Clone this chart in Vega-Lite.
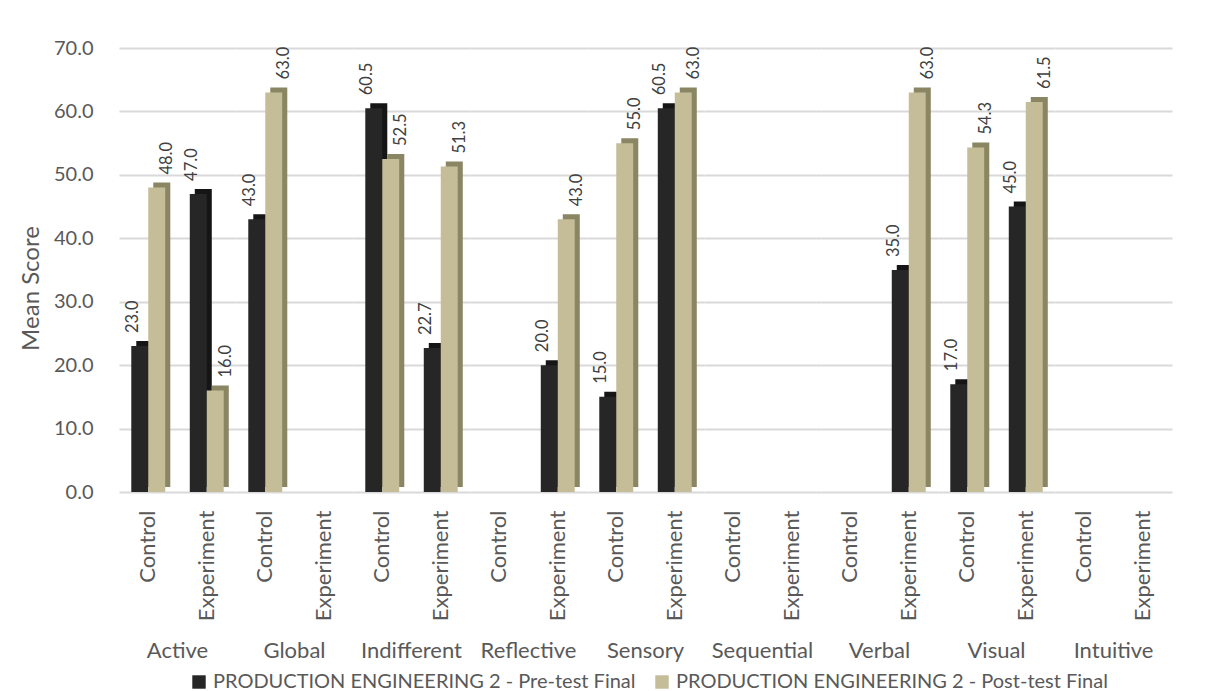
{
  "$schema": "https://vega.github.io/schema/vega-lite/v6.json",
  "padding": {"left": 19, "top": 38, "right": 10, "bottom": 0},
  "background": "white",
  "data": {"values": [
    {"category": "Active", "group": "Control", "series": "PRODUCTION ENGINEERING 2 - Pre-test Final", "value": 23.0},
    {"category": "Active", "group": "Control", "series": "PRODUCTION ENGINEERING 2 - Post-test Final", "value": 48.0},
    {"category": "Active", "group": "Experiment", "series": "PRODUCTION ENGINEERING 2 - Pre-test Final", "value": 47.0},
    {"category": "Active", "group": "Experiment", "series": "PRODUCTION ENGINEERING 2 - Post-test Final", "value": 16.0},
    {"category": "Global", "group": "Control", "series": "PRODUCTION ENGINEERING 2 - Pre-test Final", "value": 43.0},
    {"category": "Global", "group": "Control", "series": "PRODUCTION ENGINEERING 2 - Post-test Final", "value": 63.0},
    {"category": "Indifferent", "group": "Control", "series": "PRODUCTION ENGINEERING 2 - Pre-test Final", "value": 60.5},
    {"category": "Indifferent", "group": "Control", "series": "PRODUCTION ENGINEERING 2 - Post-test Final", "value": 52.5},
    {"category": "Indifferent", "group": "Experiment", "series": "PRODUCTION ENGINEERING 2 - Pre-test Final", "value": 22.7},
    {"category": "Indifferent", "group": "Experiment", "series": "PRODUCTION ENGINEERING 2 - Post-test Final", "value": 51.3},
    {"category": "Reflective", "group": "Experiment", "series": "PRODUCTION ENGINEERING 2 - Pre-test Final", "value": 20.0},
    {"category": "Reflective", "group": "Experiment", "series": "PRODUCTION ENGINEERING 2 - Post-test Final", "value": 43.0},
    {"category": "Sensory", "group": "Control", "series": "PRODUCTION ENGINEERING 2 - Pre-test Final", "value": 15.0},
    {"category": "Sensory", "group": "Control", "series": "PRODUCTION ENGINEERING 2 - Post-test Final", "value": 55.0},
    {"category": "Sensory", "group": "Experiment", "series": "PRODUCTION ENGINEERING 2 - Pre-test Final", "value": 60.5},
    {"category": "Sensory", "group": "Experiment", "series": "PRODUCTION ENGINEERING 2 - Post-test Final", "value": 63.0},
    {"category": "Sequential", "group": "Control", "series": "PRODUCTION ENGINEERING 2 - Pre-test Final", "value": null},
    {"category": "Verbal", "group": "Experiment", "series": "PRODUCTION ENGINEERING 2 - Pre-test Final", "value": 35.0},
    {"category": "Verbal", "group": "Experiment", "series": "PRODUCTION ENGINEERING 2 - Post-test Final", "value": 63.0},
    {"category": "Visual", "group": "Control", "series": "PRODUCTION ENGINEERING 2 - Pre-test Final", "value": 17.0},
    {"category": "Visual", "group": "Control", "series": "PRODUCTION ENGINEERING 2 - Post-test Final", "value": 54.3},
    {"category": "Visual", "group": "Experiment", "series": "PRODUCTION ENGINEERING 2 - Pre-test Final", "value": 45.0},
    {"category": "Visual", "group": "Experiment", "series": "PRODUCTION ENGINEERING 2 - Post-test Final", "value": 61.5},
    {"category": "Intuitive", "group": "Control", "series": "PRODUCTION ENGINEERING 2 - Pre-test Final", "value": null}
  ]},
  "facet": {
    "column": {
      "field": "category",
      "type": "nominal",
      "sort": ["Active", "Global", "Indifferent", "Reflective", "Sensory", "Sequential", "Verbal", "Visual", "Intuitive"],
      "header": {"labelOrient": "bottom", "title": null, "labelFontSize": 22, "labelColor": "#595959", "labelFont": "Lato", "labelPadding": 20}
    }
  },
  "spacing": 0,
  "spec": {
    "width": 117,
    "height": 444,
    "encoding": {
      "x": {
        "field": "group",
        "type": "nominal",
        "scale": {"domain": ["Control", "Experiment"], "paddingInner": 0.42, "paddingOuter": 0.21},
        "axis": {"title": null, "labelAngle": -90, "labelFontSize": 22, "labelColor": "#595959", "labelFont": "Lato", "labelPadding": 18, "grid": false, "ticks": false, "domain": false}
      },
      "y": {
        "field": "value",
        "type": "quantitative",
        "scale": {"domain": [0, 70]},
        "axis": {"title": "Mean Score", "values": [0, 10, 20, 30, 40, 50, 60, 70], "format": ".1f", "labelFontSize": 20, "labelColor": "#595959", "labelFont": "Lato", "titleFontSize": 24, "titleFont": "Lato", "titleColor": "#595959", "titleFontWeight": "normal", "titlePadding": 10, "titleY": 240, "labelPadding": 26, "grid": true, "gridColor": "#D9D9D9", "gridWidth": 2, "ticks": false, "domain": false}
      }
    },
    "layer": [
      {
        "mark": {"type": "bar", "yOffset": -5},
        "encoding": {
          "xOffset": {
            "field": "series",
            "type": "nominal",
            "scale": {"domain": ["PRODUCTION ENGINEERING 2 - Pre-test Final", "PRODUCTION ENGINEERING 2 - Post-test Final"], "range": [5, 39], "paddingInner": 0, "paddingOuter": 0}
          },
          "color": {"condition": {"test": "datum.series == 'PRODUCTION ENGINEERING 2 - Pre-test Final'", "value": "#151515"}, "value": "#8A8562"}
        }
      },
      {
        "mark": {"type": "bar"},
        "encoding": {
          "xOffset": {
            "field": "series",
            "type": "nominal",
            "scale": {"domain": ["PRODUCTION ENGINEERING 2 - Pre-test Final", "PRODUCTION ENGINEERING 2 - Post-test Final"], "paddingInner": 0, "paddingOuter": 0}
          },
          "color": {
            "field": "series",
            "type": "nominal",
            "scale": {"domain": ["PRODUCTION ENGINEERING 2 - Pre-test Final", "PRODUCTION ENGINEERING 2 - Post-test Final"], "range": ["#262626", "#C4BD97"]},
            "legend": {"title": null, "orient": "none", "legendX": 70, "legendY": 624, "direction": "horizontal", "symbolType": "square", "symbolSize": 180, "labelFontSize": 20, "labelFont": "Lato", "labelColor": "#595959", "labelLimit": 700, "columnPadding": 16, "symbolStrokeWidth": 0, "labelOffset": 4}
          }
        }
      },
      {
        "mark": {"type": "text", "angle": -90, "align": "left", "baseline": "middle", "dx": 13, "dy": 2, "fontSize": 16.5, "font": "Lato", "color": "#404040"},
        "encoding": {
          "xOffset": {
            "field": "series",
            "type": "nominal",
            "scale": {"domain": ["PRODUCTION ENGINEERING 2 - Pre-test Final", "PRODUCTION ENGINEERING 2 - Post-test Final"], "paddingInner": 0, "paddingOuter": 0}
          },
          "text": {"field": "value", "type": "quantitative", "format": ".1f"}
        }
      }
    ],
    "resolve": {"scale": {"xOffset": "independent"}}
  },
  "config": {"view": {"stroke": null}}
}
